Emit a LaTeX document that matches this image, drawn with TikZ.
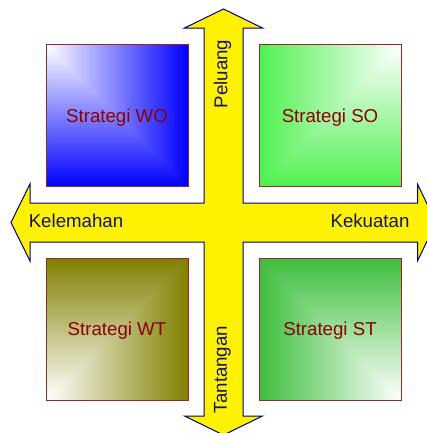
\documentclass[tikz,border=0pt]{standalone}
\usepackage{fontspec}
\setmainfont{Liberation Sans}
\usetikzlibrary{positioning}

\definecolor{quadborder}{RGB}{150,40,40}
\definecolor{quadtext}{RGB}{140,0,0}
\definecolor{labelnavy}{RGB}{20,20,110}
\definecolor{crossborder}{RGB}{0,0,140}
\definecolor{woblue}{RGB}{0,0,255}
\definecolor{sogreen}{RGB}{80,240,80}
\definecolor{wtolive}{RGB}{128,128,0}
\definecolor{stgreen}{RGB}{60,190,60}

\begin{document}
\begin{tikzpicture}[
		x=0.75pt, y=-0.75pt,
		font=\fontsize{14}{16}\selectfont,
		quad/.style={draw=quadborder, line width=0.75pt, minimum size=106.5pt, inner sep=0pt, text depth=0pt, text=quadtext},
		axislabel/.style={text=labelnavy, inner sep=0pt},
		cross/.style={fill=yellow, draw=crossborder, line width=0.75pt, line join=miter},
		% corner gradients: white in one corner, colour along the two far sides
		glow nw/.style={path picture={
				\shade[left color=white, right color=#1] (path picture bounding box.north west) rectangle (path picture bounding box.south east);
				\shade[top color=white, bottom color=#1] (path picture bounding box.north west) -- (path picture bounding box.south west) -- (path picture bounding box.south east) -- cycle;}},
		glow ne/.style={path picture={
				\shade[left color=#1, right color=white] (path picture bounding box.north west) rectangle (path picture bounding box.south east);
				\shade[top color=white, bottom color=#1] (path picture bounding box.north east) -- (path picture bounding box.south east) -- (path picture bounding box.south west) -- cycle;}},
		glow sw/.style={path picture={
				\shade[left color=white, right color=#1] (path picture bounding box.north west) rectangle (path picture bounding box.south east);
				\shade[top color=#1, bottom color=white] (path picture bounding box.north west) -- (path picture bounding box.north east) -- (path picture bounding box.south west) -- cycle;}},
		glow se/.style={path picture={
				\shade[left color=#1, right color=white] (path picture bounding box.north west) rectangle (path picture bounding box.south east);
				\shade[top color=#1, bottom color=white] (path picture bounding box.north west) -- (path picture bounding box.north east) -- (path picture bounding box.south east) -- cycle;}}
		]
		
		\useasboundingbox (0,0) rectangle (427,433);
		\clip (0,0) rectangle (427,433);
		
		% 1. Cross of four arrows
		\draw[cross] (223.5,9) -- (262.5,28) -- (243,28) -- (243,203) -- (417.5,203) -- (417.5,184)
		-- (436,222.5) -- (417.5,261) -- (417.5,242) -- (243,242) -- (243,416) -- (262.5,416)
		-- (223.5,435) -- (184.5,416) -- (204,416) -- (204,242) -- (30,242) -- (30,261)
		-- (11,222.5) -- (30,184) -- (30,203) -- (204,203) -- (204,28) -- (184.5,28) -- cycle;
		
		% 2. Axis labels
		\node[axislabel, rotate=90] (peluang) at (222.5,74) {Peluang};
		\node[axislabel, rotate=90] (tantangan) at (222.5,369.5) {Tantangan};
		\node[axislabel] (kelemahan) at (76,220.5) {Kelemahan};
		\node[axislabel] (kekuatan) at (370,220.5) {Kekuatan};
		
		% 3. Strategy squares
		\node[quad, glow nw=woblue] (WO) at (117,115.5) {Strategi WO};
		\node[quad, glow ne=sogreen] (SO) at (330,115.5) {Strategi SO};
		\node[quad, glow sw=wtolive] (WT) at (117,329) {Strategi WT};
		\node[quad, glow se=stgreen] (ST) at (330,329) {Strategi ST};
		
	\end{tikzpicture}
\end{document}
